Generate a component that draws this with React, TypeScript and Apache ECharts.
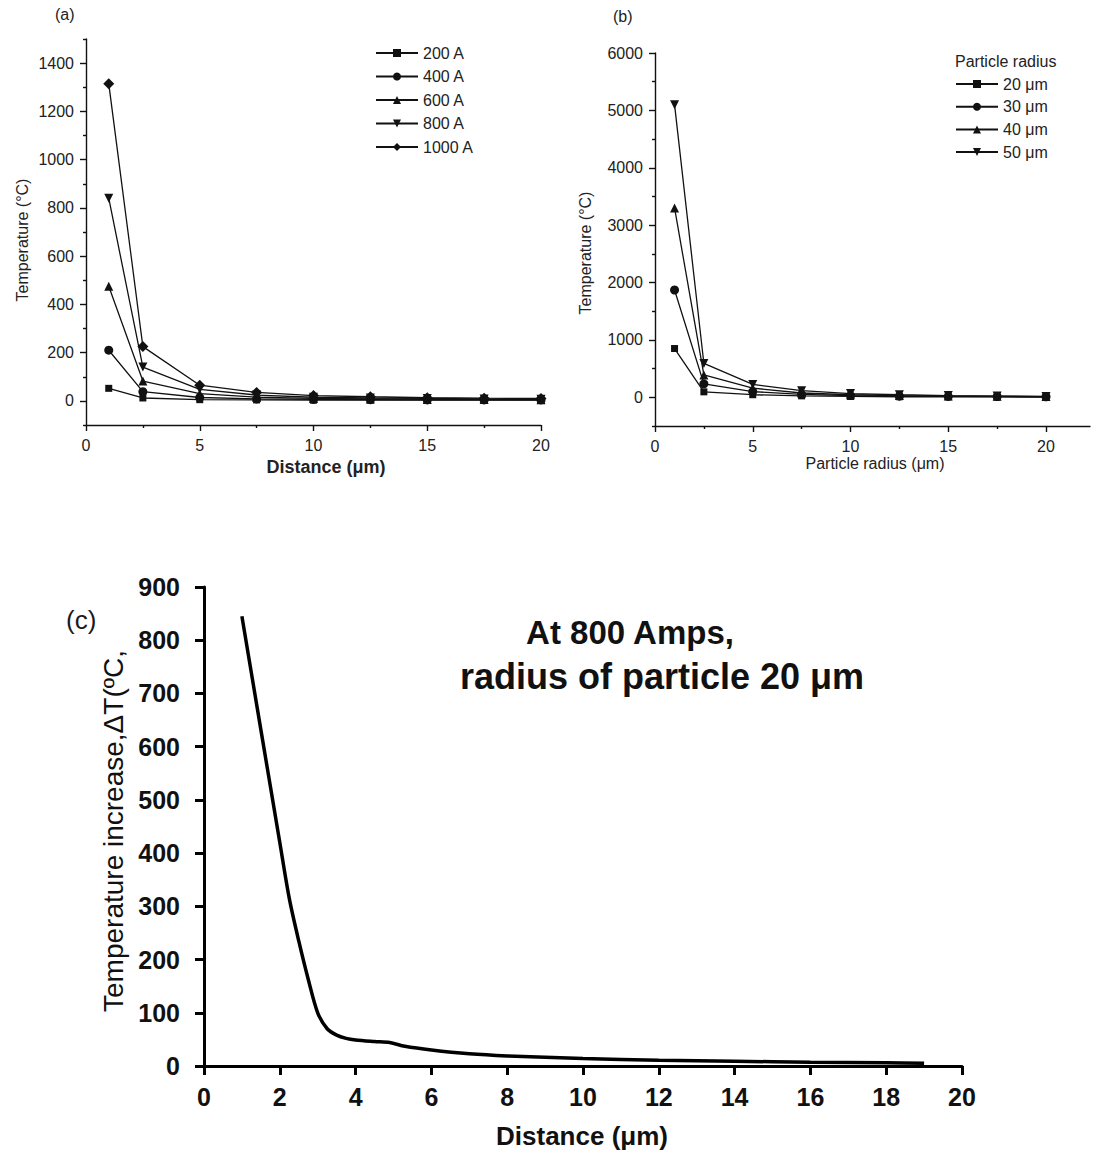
import React, { useEffect, useRef } from "react";
import * as echarts from "echarts";

const FONT = "'Liberation Sans', Arial, Helvetica, sans-serif";

// Panel (a): temperature vs distance for different currents
const distA = [1, 2.5, 5, 7.5, 10, 12.5, 15, 17.5, 20];
const currentNames = ["200 A", "400 A", "600 A", "800 A", "1000 A"];
const a200 = [52, 12, 5, 4, 3, 3, 3, 3, 3];
const a400 = [210, 38, 14, 8, 6, 5, 4, 4, 4];
const a600 = [475, 82, 30, 15, 10, 8, 6, 6, 5];
const a800 = [840, 140, 48, 24, 15, 12, 10, 8, 7];
const a1000 = [1315, 225, 65, 35, 22, 17, 13, 11, 10];

// Panel (b): temperature vs particle radius
const radiusB = [1, 2.5, 5, 7.5, 10, 12.5, 15, 17.5, 20];
const radiusNames = ["20 μm", "30 μm", "40 μm", "50 μm"];
const b20 = [850, 95, 45, 25, 15, 10, 8, 6, 5];
const b30 = [1870, 235, 100, 50, 30, 20, 15, 12, 10];
const b40 = [3300, 390, 160, 75, 45, 30, 22, 18, 12];
const b50 = [5100, 590, 225, 115, 65, 45, 30, 22, 15];

// Panel (c): temperature increase at 800 A, radius 20 µm
const distC = [1, 1.5, 2, 2.25, 2.5, 2.75, 3, 3.25, 3.5, 3.75, 4, 4.5, 4.9, 5.3, 6, 7, 8, 10, 12, 14, 16, 18, 19];
const tempC = [845, 632, 420, 315, 235, 163, 100, 70, 58, 52, 49, 46, 44, 37, 30, 23, 19, 14, 11, 9, 7, 6, 5];

// tick labels
const yTicksA = [0, 200, 400, 600, 800, 1000, 1200, 1400];
const yMinorA = [-100, 100, 300, 500, 700, 900, 1100, 1300, 1500];
const yTicksB = [0, 1000, 2000, 3000, 4000, 5000, 6000];
const yMinorB = [-500, 500, 1500, 2500, 3500, 4500, 5500];
const xTicksB = [0, 5, 10, 15, 20];
const xMinorB = [2.5, 7.5, 12.5, 17.5];

const symbolsA = ["rect", "circle", "triangle", "triangle", "diamond"];
const rotA = [0, 0, 0, 180, 0];
const symbolsB = ["rect", "circle", "triangle", "triangle"];
const rotB = [0, 0, 0, 180];

function pairs(xs: number[], ys: number[]) {
  return xs.map((x, i) => [x, ys[i]]);
}

const plain = (v: number) => String(v);

export default function App() {
  const ref = useRef<HTMLDivElement>(null);
  useEffect(() => {
    const chart = echarts.init(ref.current as HTMLDivElement, null, { renderer: "svg" });
    const thin = { color: "#111", width: 1.4 };
    const thick = { color: "#000", width: 3 };
    const lblSmall = { fontFamily: FONT, fontSize: 16, color: "#222", formatter: plain };
    const seriesA = [a200, a400, a600, a800, a1000].map((d, i) => ({
      name: currentNames[i],
      type: "line",
      xAxisIndex: 0,
      yAxisIndex: 0,
      data: pairs(distA, d),
      symbol: symbolsA[i],
      symbolRotate: rotA[i],
      symbolSize: i === 4 ? 11 : i === 0 ? 7 : 9,
      lineStyle: { color: "#111", width: 1.3 },
      itemStyle: { color: "#111" },
    }));
    const seriesB = [b20, b30, b40, b50].map((d, i) => ({
      name: radiusNames[i],
      type: "line",
      xAxisIndex: 1,
      yAxisIndex: 2,
      data: pairs(radiusB, d),
      symbol: symbolsB[i],
      symbolRotate: rotB[i],
      symbolSize: i === 0 ? 7 : 9,
      lineStyle: { color: "#111", width: 1.3 },
      itemStyle: { color: "#111" },
    }));
    const legendText = { fontFamily: FONT, fontSize: 16, color: "#222", lineHeight: 16 };
    const option: any = {
      animation: false,
      backgroundColor: "#fff",
      grid: [
        { left: 86, right: 552, top: 39, bottom: 729 },
        { left: 655, right: 3, top: 53, bottom: 728 },
        { left: 204, right: 131, top: 587, bottom: 88 },
      ],
      xAxis: [
        {
          gridIndex: 0, type: "value", min: 0, max: 20, interval: 5,
          axisLine: { onZero: false, lineStyle: thin },
          axisTick: { show: true, length: 6, lineStyle: thin },
          minorTick: { show: true, splitNumber: 2, length: 3, lineStyle: thin },
          axisLabel: { ...lblSmall, margin: 12 },
          splitLine: { show: false },
        },
        {
          gridIndex: 1, type: "value", min: 0, max: 22.25,
          axisLine: { onZero: false, lineStyle: thin },
          axisTick: { show: true, customValues: xTicksB, length: 6, lineStyle: thin },
          axisLabel: { ...lblSmall, customValues: xTicksB, margin: 12 },
          splitLine: { show: false },
        },
        {
          gridIndex: 1, type: "value", min: 0, max: 22.25, position: "bottom",
          axisLine: { show: false, onZero: false },
          axisTick: { show: true, customValues: xMinorB, length: 3, lineStyle: thin },
          axisLabel: { show: false },
          splitLine: { show: false },
        },
        {
          gridIndex: 2, type: "value", min: 0, max: 20, interval: 2,
          axisLine: { onZero: false, lineStyle: thick },
          axisTick: { show: true, length: 9, lineStyle: thick },
          axisLabel: { fontFamily: FONT, fontSize: 25, fontWeight: "bold", color: "#111", margin: 18 },
          splitLine: { show: false },
        },
      ],
      yAxis: [
        {
          gridIndex: 0, type: "value", min: -100, max: 1500,
          axisLine: { show: true, onZero: false, lineStyle: thin },
          axisTick: { show: true, customValues: yTicksA, length: 6, lineStyle: thin },
          axisLabel: { ...lblSmall, customValues: yTicksA, margin: 12 },
          splitLine: { show: false },
        },
        {
          gridIndex: 0, type: "value", min: -100, max: 1500, position: "left",
          axisLine: { show: false, onZero: false },
          axisTick: { show: true, customValues: yMinorA, length: 3, lineStyle: thin },
          axisLabel: { show: false },
          splitLine: { show: false },
        },
        {
          gridIndex: 1, type: "value", min: -500, max: 6000,
          axisLine: { show: true, onZero: false, lineStyle: thin },
          axisTick: { show: true, customValues: yTicksB, length: 6, lineStyle: thin },
          axisLabel: { ...lblSmall, customValues: yTicksB, margin: 12 },
          splitLine: { show: false },
        },
        {
          gridIndex: 1, type: "value", min: -500, max: 6000, position: "left",
          axisLine: { show: false, onZero: false },
          axisTick: { show: true, customValues: yMinorB, length: 3, lineStyle: thin },
          axisLabel: { show: false },
          splitLine: { show: false },
        },
        {
          gridIndex: 2, type: "value", min: 0, max: 900, interval: 100,
          axisLine: { show: true, onZero: false, lineStyle: thick },
          axisTick: { show: true, length: 9, lineStyle: thick },
          axisLabel: { fontFamily: FONT, fontSize: 25, fontWeight: "bold", color: "#111", margin: 24 },
          splitLine: { show: false },
        },
      ],
      legend: [
        {
          data: currentNames, orient: "vertical", left: 375, top: 45, padding: 0,
          itemWidth: 42, itemHeight: 10, itemGap: 7.5,
          textStyle: legendText,
        },
        {
          data: radiusNames, orient: "vertical", left: 955, top: 76, padding: 0,
          itemWidth: 42, itemHeight: 10, itemGap: 6.7,
          textStyle: legendText,
        },
      ],
      series: [
        ...seriesA,
        ...seriesB,
        {
          name: "ΔT",
          type: "line",
          xAxisIndex: 3,
          yAxisIndex: 4,
          data: pairs(distC, tempC),
          smooth: 0.3,
          showSymbol: false,
          symbol: "none",
          lineStyle: { color: "#000", width: 3.5 },
        },
      ],
      graphic: [
        { type: "text", left: 55, top: 6, style: { text: "(a)", font: `16px ${FONT}`, fill: "#222" } },
        { type: "text", left: 613, top: 8, style: { text: "(b)", font: `16px ${FONT}`, fill: "#222" } },
        { type: "text", x: 66, y: 620, style: { text: "(c)", font: `26px ${FONT}`, fill: "#1a1a1a", textVerticalAlign: "middle" } },
        { type: "text", x: 22, y: 240, rotation: Math.PI / 2, style: { text: "Temperature (°C)", font: `16px ${FONT}`, fill: "#222", textAlign: "center", textVerticalAlign: "middle" } },
        { type: "text", x: 585, y: 253, rotation: Math.PI / 2, style: { text: "Temperature (°C)", font: `16px ${FONT}`, fill: "#222", textAlign: "center", textVerticalAlign: "middle" } },
        { type: "text", x: 326, y: 467, style: { text: "Distance (μm)", font: `bold 18px ${FONT}`, fill: "#222", textAlign: "center", textVerticalAlign: "middle" } },
        { type: "text", x: 875, y: 463, style: { text: "Particle radius (μm)", font: `16px ${FONT}`, fill: "#222", textAlign: "center", textVerticalAlign: "middle" } },
        { type: "text", x: 955, y: 61, style: { text: "Particle radius", font: `16px ${FONT}`, fill: "#222", textVerticalAlign: "middle" } },
        { type: "text", x: 113, y: 831, rotation: Math.PI / 2, style: { text: "Temperature increase,ΔT(ºC,", font: `28px ${FONT}`, fill: "#111", textAlign: "center", textVerticalAlign: "middle" } },
        { type: "text", x: 582, y: 1136, style: { text: "Distance (μm)", font: `bold 26px ${FONT}`, fill: "#111", textAlign: "center", textVerticalAlign: "middle" } },
        { type: "text", x: 630, y: 632, style: { text: "At 800 Amps,", font: `bold 33px ${FONT}`, fill: "#111", textAlign: "center", textVerticalAlign: "middle" } },
        { type: "text", x: 662, y: 676, style: { text: "radius of particle 20 μm", font: `bold 36px ${FONT}`, fill: "#111", textAlign: "center", textVerticalAlign: "middle" } },
      ],
    };
    chart.setOption(option);
    return () => chart.dispose();
  }, []);
  return (
    <div
      ref={ref}
      style={{ position: "absolute", left: 0, top: 0, width: 1093, height: 1154, background: "#fff" }}
    />
  );
}
